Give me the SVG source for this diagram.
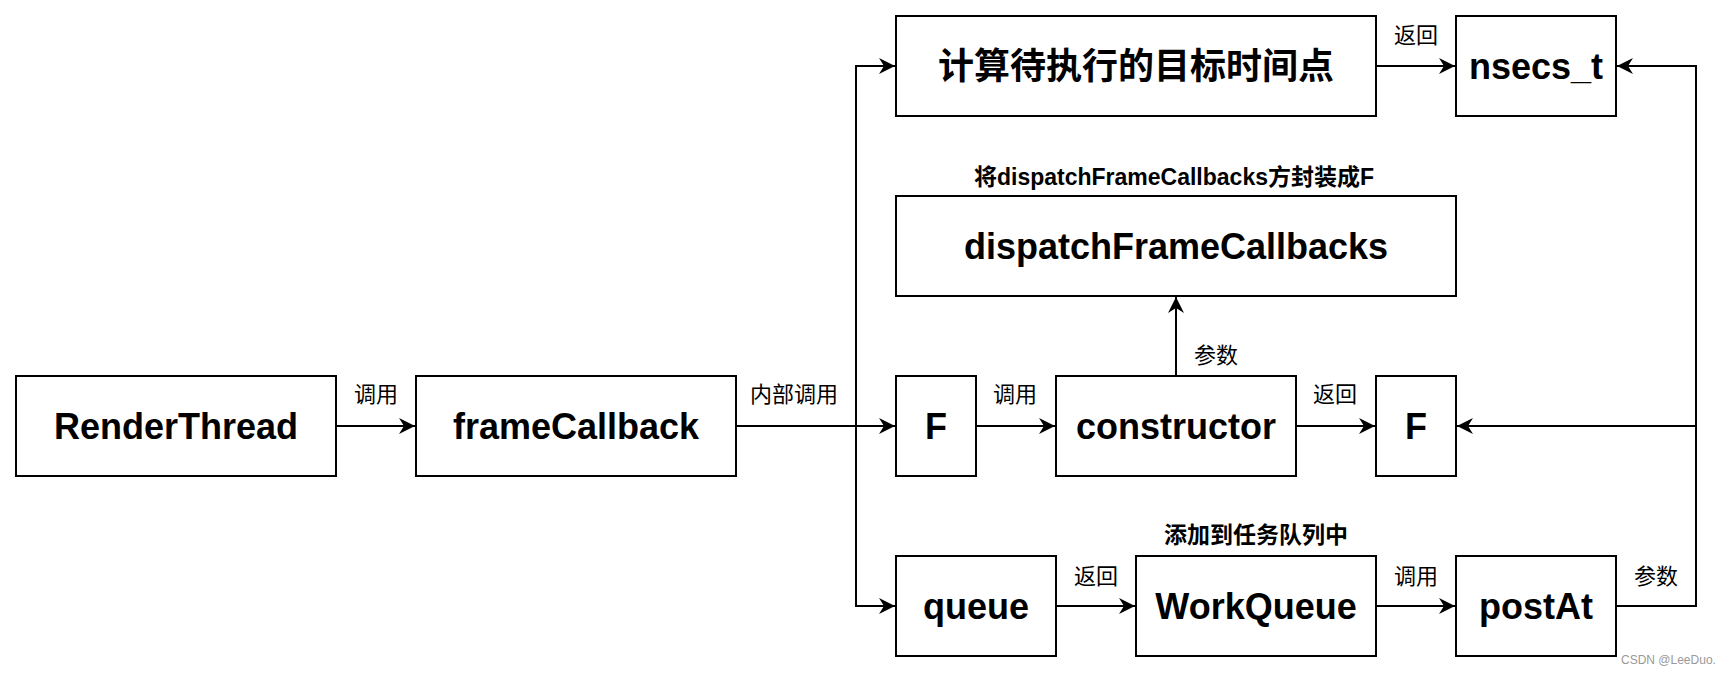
<svg xmlns="http://www.w3.org/2000/svg" width="1730" height="674" viewBox="0 0 1730 674">
<style>
.box{fill:#fff;stroke:#000;stroke-width:2}
.nt{font-family:"Liberation Sans","Noto Sans CJK SC",sans-serif;font-weight:bold;font-size:36px;fill:#000;text-anchor:middle}
.cjk{font-family:"Noto Sans CJK SC","Liberation Sans",sans-serif;font-weight:bold;font-size:36px;fill:#000;text-anchor:middle}
.lb{font-family:"Liberation Sans","Noto Sans CJK SC",sans-serif;font-size:22px;fill:#000;text-anchor:middle}
.lbb{font-family:"Liberation Sans","Noto Sans CJK SC",sans-serif;font-weight:bold;font-size:23px;fill:#000;text-anchor:middle}
.ln{fill:none;stroke:#000;stroke-width:2}
.wm{font-family:"Liberation Sans",sans-serif;font-size:12px;fill:#999}
</style>
<defs>
<marker id="ar" markerUnits="userSpaceOnUse" markerWidth="20" markerHeight="20" viewBox="0 0 20 20" refX="17" refY="10" orient="auto">
<path d="M1,2 L17,10 L1,18 L6,10 Z" fill="#000"/>
</marker>
</defs>
<rect width="1730" height="674" fill="#fff"/>
<g id="connectors">
<path class="ln" d="M336,426 H415" marker-end="url(#ar)"/>
<path class="ln" d="M736,426 H895" marker-end="url(#ar)"/>
<path class="ln" d="M856,426 V66 H895" marker-end="url(#ar)"/>
<path class="ln" d="M856,426 V606 H895" marker-end="url(#ar)"/>
<path class="ln" d="M976,426 H1055" marker-end="url(#ar)"/>
<path class="ln" d="M1296,426 H1375" marker-end="url(#ar)"/>
<path class="ln" d="M1176,376 V297" marker-end="url(#ar)"/>
<path class="ln" d="M1376,66 H1455" marker-end="url(#ar)"/>
<path class="ln" d="M1056,606 H1135" marker-end="url(#ar)"/>
<path class="ln" d="M1376,606 H1455" marker-end="url(#ar)"/>
<path class="ln" d="M1616,606 H1696 V66 H1617" marker-end="url(#ar)"/>
<path class="ln" d="M1696,426 H1457" marker-end="url(#ar)"/>
<text class="lb" x="376" y="402">调用</text>
<text class="lb" x="794" y="402">内部调用</text>
<text class="lb" x="1015" y="402">调用</text>
<text class="lb" x="1335" y="402">返回</text>
<text class="lb" x="1416" y="43">返回</text>
<text class="lb" x="1216" y="363">参数</text>
<text class="lb" x="1096" y="584">返回</text>
<text class="lb" x="1416" y="584">调用</text>
<text class="lb" x="1656" y="584">参数</text>
<text class="lbb" x="1174" y="185">将dispatchFrameCallbacks方封装成F</text>
<text class="lbb" x="1256" y="543">添加到任务队列中</text>
</g>
<g id="node-renderthread"><rect class="box" x="16" y="376" width="320" height="100"/><text class="nt" x="176" y="439">RenderThread</text></g>
<g id="node-framecallback"><rect class="box" x="416" y="376" width="320" height="100"/><text class="nt" x="576" y="439">frameCallback</text></g>
<g id="node-compute"><rect class="box" x="896" y="16" width="480" height="100"/><text class="cjk" x="1136" y="79">计算待执行的目标时间点</text></g>
<g id="node-nsecs"><rect class="box" x="1456" y="16" width="160" height="100"/><text class="nt" x="1536" y="79">nsecs_t</text></g>
<g id="node-dispatch"><rect class="box" x="896" y="196" width="560" height="100"/><text class="nt" x="1176" y="259">dispatchFrameCallbacks</text></g>
<g id="node-f1"><rect class="box" x="896" y="376" width="80" height="100"/><text class="nt" x="936" y="439">F</text></g>
<g id="node-constructor"><rect class="box" x="1056" y="376" width="240" height="100"/><text class="nt" x="1176" y="439">constructor</text></g>
<g id="node-f2"><rect class="box" x="1376" y="376" width="80" height="100"/><text class="nt" x="1416" y="439">F</text></g>
<g id="node-queue"><rect class="box" x="896" y="556" width="160" height="100"/><text class="nt" x="976" y="619">queue</text></g>
<g id="node-workqueue"><rect class="box" x="1136" y="556" width="240" height="100"/><text class="nt" x="1256" y="619">WorkQueue</text></g>
<g id="node-postat"><rect class="box" x="1456" y="556" width="160" height="100"/><text class="nt" x="1536" y="619">postAt</text></g>
<text class="wm" x="1621" y="664">CSDN @LeeDuo.</text>
</svg>
